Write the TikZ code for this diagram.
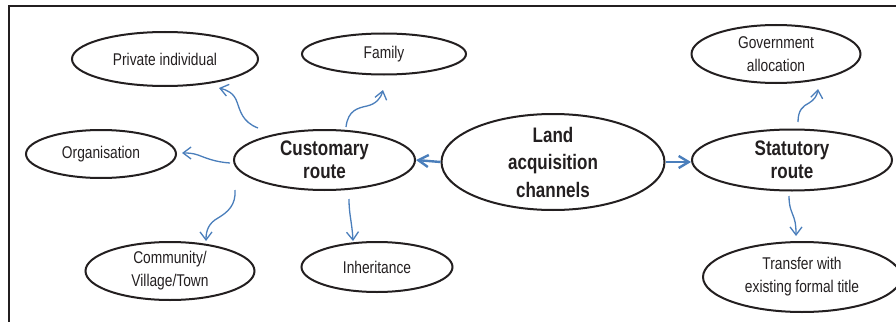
\documentclass[tikz,border=0pt]{standalone}
\usepackage{fontspec}
\setmainfont{Liberation Sans}[FakeStretch=0.81]
\usetikzlibrary{shapes.geometric,arrows.meta}
\definecolor{arrblue}{RGB}{74,126,187}
\definecolor{txt}{RGB}{35,31,32}
\tikzset{
  ell/.style={draw=txt, ellipse, line width=2pt, inner sep=0pt},
  reg/.style={align=center, text=txt, font=\fontsize{17}{23}\selectfont},
  bld/.style={align=center, text=txt, font=\bfseries\fontsize{21}{23}\selectfont},
  arr/.style={draw=arrblue, line width=1.3pt, -{Straight Barb[length=8pt,width=12pt]}},
  bigarr/.style={draw=arrblue, line width=2.4pt, -{Straight Barb[length=10pt,width=12pt]}},
}
\begin{document}
\begin{tikzpicture}[x=1pt,y=-1pt]
\useasboundingbox (0,0) rectangle (896,321);
\clip (0,0) rectangle (896,321);
\draw[line width=2pt, draw=txt] (9,322) -- (9,6) -- (897,6);

% nodes
\node[ell, minimum width=186pt, minimum height=54pt, label={[reg]center:Private individual}] (priv) at (165,59) {};
\node[ell, minimum width=150pt, minimum height=48pt, label={[reg]center:Organisation}] (org) at (101,154) {};
\node[ell, minimum width=164pt, minimum height=41pt, label={[reg]center:Family}] (fam) at (384,54) {};
\node[ell, minimum width=181pt, minimum height=60pt, label={[bld]center:Customary\\route}] (cust) at (324.5,160) {};
\node[ell, minimum width=223pt, minimum height=96pt, label={[bld, font=\bfseries\fontsize{21}{27.5}\selectfont]center:Land\\acquisition\\channels}] (land) at (553,162) {};
\node[ell, minimum width=200pt, minimum height=61pt, label={[bld]center:Statutory\\route}] (stat) at (792,160) {};
\node[ell, minimum width=169pt, minimum height=58pt, label={[reg]center:Government\\allocation}] (gov) at (776,54) {};
\node[ell, minimum width=169pt, minimum height=58pt, label={[reg]center:Community/\\Village/Town}] (comm) at (170,271) {};
\node[ell, minimum width=151pt, minimum height=50pt, label={[reg]center:Inheritance}] (inh) at (377,267) {};
\node[ell, minimum width=198pt, minimum height=70pt, label={[reg]center:Transfer with\\existing formal title}] (trans) at (802,277) {};

% free ends of the curved connectors
\coordinate (sPriv) at (258,128);  \coordinate (ePriv) at (219,88);
\coordinate (sFam)  at (346,127);  \coordinate (eFam)  at (383,90);
\coordinate (sOrg)  at (230,163);  \coordinate (eOrg)  at (182,153);
\coordinate (sComm) at (235,190);  \coordinate (eComm) at (206,241);
\coordinate (sInh)  at (349,199);  \coordinate (eInh)  at (353,241);
\coordinate (sGov)  at (798,122);  \coordinate (eGov)  at (818,89);
\coordinate (sTr)   at (789,196);  \coordinate (eTr)   at (796,236);

\draw[arr] (sPriv) .. controls (242,122) and (240,110) .. (237,102) .. controls (234,93) and (227,90) .. (ePriv);
\draw[arr] (sFam) .. controls (348,110) and (358,108) .. (367,106) .. controls (376,104) and (381,98) .. (eFam);
\draw[arr] (sOrg) .. controls (215,162) and (206,158) .. (198,155) .. controls (192,153) and (188,153) .. (eOrg);
\draw[arr] (sComm) .. controls (236,205) and (228,212) .. (218,218) .. controls (209,223) and (206,230) .. (eComm);
\draw[arr] (sInh) .. controls (349,215) and (352,222) .. (eInh);
\draw[arr] (sGov) .. controls (798,110) and (803,106) .. (809,103) .. controls (814,100) and (817,96) .. (eGov);
\draw[arr] (sTr) .. controls (789,208) and (792,212) .. (794,218) .. controls (796,224) and (796,230) .. (eTr);

\draw[bigarr] (land.west) -- (cust.east);
\draw[bigarr] (land.east) -- (land.east -| stat.west);
\end{tikzpicture}
\end{document}
